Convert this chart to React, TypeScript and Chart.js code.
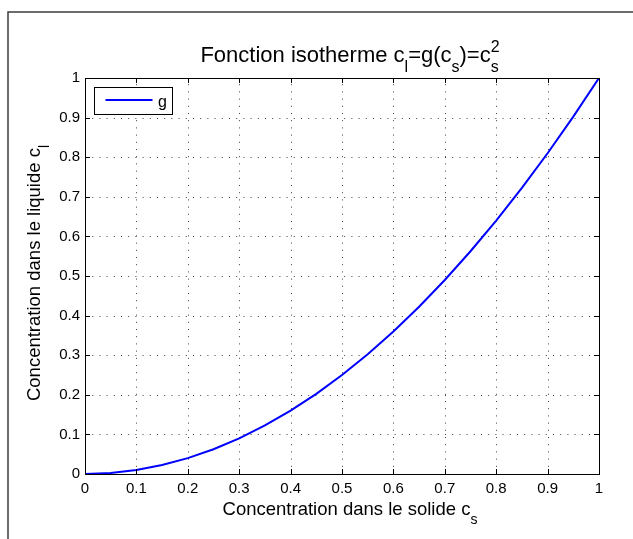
import React, { useEffect, useRef } from 'react';
import { Chart, registerables } from 'chart.js';

Chart.register(...registerables);

// ---- data ----
const xValues = [0, 0.05, 0.1, 0.15, 0.2, 0.25, 0.3, 0.35, 0.4, 0.45, 0.5, 0.55, 0.6, 0.65, 0.7, 0.75, 0.8, 0.85, 0.9, 0.95, 1];
const gValues = [0, 0.0025, 0.01, 0.0225, 0.04, 0.0625, 0.09, 0.1225, 0.16, 0.2025, 0.25, 0.3025, 0.36, 0.4225, 0.49, 0.5625, 0.64, 0.7225, 0.81, 0.9025, 1];
const seriesLabel = 'g';
const axisMin = 0;
const axisMax = 1;
const tickStep = 0.1;
const tickLabels = ['0', '0.1', '0.2', '0.3', '0.4', '0.5', '0.6', '0.7', '0.8', '0.9', '1'];

type Part = { text: string; sub?: string; sup?: string };
const titleParts: Part[] = [
  { text: 'Fonction isotherme c', sub: 'l' },
  { text: '=g(c', sub: 's' },
  { text: ')=c', sub: 's', sup: '2' },
];
const xLabelParts: Part[] = [{ text: 'Concentration dans le solide c', sub: 's' }];
const yLabelParts: Part[] = [{ text: 'Concentration dans le liquide c', sub: 'l' }];

const FONT = '"Liberation Sans", Arial, Helvetica, sans-serif';

function drawRich(
  ctx: CanvasRenderingContext2D,
  parts: Part[],
  cx: number,
  baseline: number,
  mainSize: number,
  subSize: number,
  subDy: number,
  supDy: number
) {
  const mainFont = `${mainSize}px ${FONT}`;
  const subFont = `${subSize}px ${FONT}`;
  let total = 0;
  const widths = parts.map((p) => {
    ctx.font = mainFont;
    const mw = ctx.measureText(p.text).width;
    ctx.font = subFont;
    const sw = Math.max(p.sub ? ctx.measureText(p.sub).width : 0, p.sup ? ctx.measureText(p.sup).width : 0);
    total += mw + sw;
    return [mw, sw];
  });
  let x = cx - total / 2;
  ctx.fillStyle = '#000';
  ctx.textAlign = 'left';
  ctx.textBaseline = 'alphabetic';
  parts.forEach((p, i) => {
    ctx.font = mainFont;
    ctx.fillText(p.text, x, baseline);
    x += widths[i][0];
    ctx.font = subFont;
    if (p.sub) ctx.fillText(p.sub, x, baseline + subDy);
    if (p.sup) ctx.fillText(p.sup, x, baseline + supDy);
    x += widths[i][1];
  });
}

const decorPlugin = {
  id: 'matlabDecor',
  beforeDraw(chart: any) {
    const ctx: CanvasRenderingContext2D = chart.ctx;
    ctx.save();
    ctx.fillStyle = '#fff';
    ctx.fillRect(0, 0, chart.width, chart.height);
    ctx.strokeStyle = '#3c3c3c';
    ctx.lineWidth = 1.5;
    ctx.beginPath();
    ctx.moveTo(8, chart.height);
    ctx.lineTo(8, 12);
    ctx.lineTo(chart.width, 12);
    ctx.stroke();
    ctx.restore();
  },
  beforeDatasetsDraw(chart: any) {
    const ctx: CanvasRenderingContext2D = chart.ctx;
    const { left, right, top, bottom } = chart.chartArea;
    const xs = chart.scales.x;
    const ys = chart.scales.y;
    ctx.save();
    ctx.strokeStyle = 'rgba(0,0,0,0.75)';
    ctx.lineWidth = 1;
    ctx.setLineDash([1, 6.2]);
    xs.ticks.forEach((t: any) => {
      if (t.value <= axisMin || t.value >= axisMax) return;
      const px = Math.round(xs.getPixelForValue(t.value)) + 0.5;
      ctx.beginPath();
      ctx.moveTo(px, bottom);
      ctx.lineTo(px, top);
      ctx.stroke();
    });
    ys.ticks.forEach((t: any) => {
      if (t.value <= axisMin || t.value >= axisMax) return;
      const py = Math.round(ys.getPixelForValue(t.value)) + 0.5;
      ctx.beginPath();
      ctx.moveTo(left, py);
      ctx.lineTo(right, py);
      ctx.stroke();
    });
    ctx.restore();
  },
  afterDatasetsDraw(chart: any) {
    const ctx: CanvasRenderingContext2D = chart.ctx;
    const { left, right, top, bottom } = chart.chartArea;
    const xs = chart.scales.x;
    const ys = chart.scales.y;
    ctx.save();
    // axes box
    ctx.strokeStyle = '#000';
    ctx.lineWidth = 1;
    ctx.setLineDash([]);
    ctx.strokeRect(Math.round(left) + 0.5, Math.round(top) + 0.5, Math.round(right - left), Math.round(bottom - top));
    // inward ticks on all four sides
    const tl = 5;
    ctx.beginPath();
    xs.ticks.forEach((t: any) => {
      const px = Math.round(xs.getPixelForValue(t.value)) + 0.5;
      ctx.moveTo(px, bottom);
      ctx.lineTo(px, bottom - tl);
      ctx.moveTo(px, top);
      ctx.lineTo(px, top + tl);
    });
    ys.ticks.forEach((t: any) => {
      const py = Math.round(ys.getPixelForValue(t.value)) + 0.5;
      ctx.moveTo(left, py);
      ctx.lineTo(left + tl, py);
      ctx.moveTo(right, py);
      ctx.lineTo(right - tl, py);
    });
    ctx.stroke();

    // legend
    const ds = chart.data.datasets[0];
    const lx = left + 9.5;
    const ly = top + 9.5;
    const lw = 78;
    const lh = 27;
    ctx.fillStyle = '#fff';
    ctx.fillRect(lx, ly, lw, lh);
    ctx.strokeStyle = '#000';
    ctx.lineWidth = 1;
    ctx.strokeRect(lx, ly, lw, lh);
    ctx.strokeStyle = ds.borderColor;
    ctx.lineWidth = ds.borderWidth;
    ctx.beginPath();
    ctx.moveTo(lx + 11, ly + 12.5);
    ctx.lineTo(lx + 58, ly + 12.5);
    ctx.stroke();
    ctx.fillStyle = '#000';
    ctx.font = `16px ${FONT}`;
    ctx.textAlign = 'left';
    ctx.textBaseline = 'alphabetic';
    ctx.fillText(ds.label, lx + 63.5, ly + 19.5);

    // title and axis labels
    drawRich(ctx, titleParts, 350, 62, 22, 16, 10, -10);
    drawRich(ctx, xLabelParts, 350, 515, 18.5, 14, 9, -9);
    ctx.translate(40, 273);
    ctx.rotate(-Math.PI / 2);
    drawRich(ctx, yLabelParts, 0, 0, 18.5, 14, 9, -9);
    ctx.restore();
  },
};

export default function App() {
  const ref = useRef<HTMLCanvasElement | null>(null);
  useEffect(() => {
    if (!ref.current) return;
    const tickFont = { family: FONT, size: 15 };
    const chart = new Chart(ref.current, {
      type: 'line',
      data: {
        datasets: [
          {
            label: seriesLabel,
            data: xValues.map((x, i) => ({ x, y: gValues[i] })),
            borderColor: '#0000ff',
            borderWidth: 2,
            pointRadius: 0,
            tension: 0,
            fill: false,
          },
        ],
      },
      options: {
        animation: false,
        responsive: false,
        devicePixelRatio: 1,
        events: [],
        layout: { padding: { top: 78, right: 34, left: 0, bottom: 0 } },
        plugins: {
          legend: { display: false },
          title: { display: false },
          tooltip: { enabled: false },
        },
        scales: {
          x: {
            type: 'linear',
            min: axisMin,
            max: axisMax,
            grid: { display: false, drawTicks: false },
            border: { display: false },
            ticks: {
              stepSize: tickStep,
              padding: 6,
              color: '#000',
              font: tickFont,
              maxRotation: 0,
              autoSkip: false,
              callback: (_v: any, i: number) => tickLabels[i],
            },
            afterFit: (s: any) => {
              s.height = 65;
            },
          },
          y: {
            type: 'linear',
            min: axisMin,
            max: axisMax,
            grid: { display: false, drawTicks: false },
            border: { display: false },
            ticks: {
              stepSize: tickStep,
              padding: 5,
              color: '#000',
              font: tickFont,
              autoSkip: false,
              callback: (_v: any, i: number) => tickLabels[i],
            },
            afterFit: (s: any) => {
              s.width = 85;
            },
          },
        },
      },
      plugins: [decorPlugin],
    } as any);
    return () => chart.destroy();
  }, []);
  return (
    <div style={{ position: 'fixed', left: 0, top: 0, width: 633, height: 539, background: '#fff' }}>
      <canvas ref={ref} width={633} height={539} style={{ display: 'block', width: 633, height: 539 }} />
    </div>
  );
}
